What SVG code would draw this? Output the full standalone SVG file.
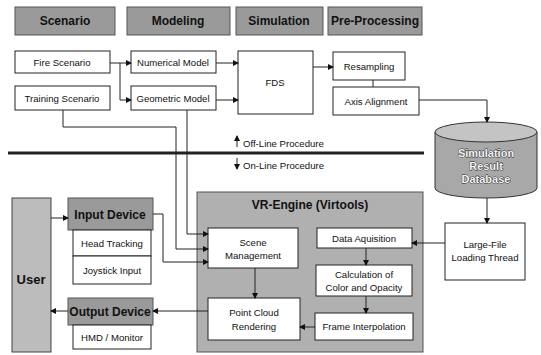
<svg xmlns="http://www.w3.org/2000/svg" width="541" height="355" viewBox="0 0 541 355">
<style>
.box{fill:#fff;stroke:#222;stroke-width:1}
.hdr{fill:#9a9a9a;stroke:#555;stroke-width:1}
.t{font-family:"Liberation Sans",Arial,sans-serif;font-size:9.6px;fill:#111;text-anchor:middle}
.h{font-family:"Liberation Sans",Arial,sans-serif;font-size:12px;font-weight:bold;fill:#111;text-anchor:middle}
.db{font-family:"Liberation Sans",Arial,sans-serif;font-size:11px;font-weight:bold;fill:#f4f4f4;stroke:#222;stroke-width:0.8;paint-order:stroke;text-anchor:middle}
.c{fill:none;stroke:#222;stroke-width:1}
.a{marker-end:url(#ah)}
</style>
<defs>
<marker id="ah" markerWidth="6" markerHeight="6" refX="5" refY="3" orient="auto" markerUnits="userSpaceOnUse">
<path d="M0,0 L6,3 L0,6 Z" fill="#111"/>
</marker>
</defs>
<rect width="541" height="355" fill="#fff"/>

<g id="hdr-scenario"><rect class="hdr" x="15" y="7" width="100" height="28"/><text class="h" x="65" y="25">Scenario</text></g>
<g id="hdr-modeling"><rect class="hdr" x="127" y="7" width="103" height="28"/><text class="h" x="178" y="25">Modeling</text></g>
<g id="hdr-simulation"><rect class="hdr" x="236" y="7" width="87" height="28"/><text class="h" x="279" y="25">Simulation</text></g>
<g id="hdr-preproc"><rect class="hdr" x="328" y="7" width="94" height="28"/><text class="h" x="375" y="25">Pre-Processing</text></g>

<g id="vr-engine"><rect x="197" y="192" width="226" height="160" fill="#b0b0b0" stroke="#555"/><text class="h" x="310" y="209">VR-Engine (Virtools)</text></g>

<g id="fire"><rect class="box" x="15" y="51" width="95" height="22"/><text class="t" x="62" y="66">Fire Scenario</text></g>
<g id="training"><rect class="box" x="15" y="86" width="95" height="24"/><text class="t" x="62" y="102">Training Scenario</text></g>
<g id="numerical"><rect class="box" x="131" y="51" width="85" height="22"/><text class="t" x="173" y="66">Numerical Model</text></g>
<g id="geometric"><rect class="box" x="131" y="86" width="85" height="24"/><text class="t" x="173" y="102">Geometric Model</text></g>
<g id="fds"><rect class="box" x="238" y="51" width="75" height="63"/><text class="t" x="275" y="86">FDS</text></g>
<g id="resampling"><rect class="box" x="333" y="52" width="72" height="28"/><text class="t" x="369" y="70">Resampling</text></g>
<g id="axis"><rect class="box" x="333" y="87" width="86" height="28"/><text class="t" x="376" y="105">Axis Alignment</text></g>

<g id="database">
<path d="M435,132 L435,188 A51,10 0 0 0 537,188 L537,132" fill="#a8a8a8" stroke="#333"/>
<ellipse cx="486" cy="132" rx="51" ry="10" fill="#c4c4c4" stroke="#333"/>
<text class="db" x="486" y="157">Simulation</text>
<text class="db" x="486" y="170">Result</text>
<text class="db" x="486" y="183">Database</text>
</g>

<g id="largefile"><rect class="box" x="445" y="223" width="80" height="57"/><text class="t" x="485" y="248">Large-File</text><text class="t" x="485" y="261">Loading Thread</text></g>

<g id="scene"><rect class="box" x="208" y="228" width="90" height="40"/><text class="t" x="253" y="246">Scene</text><text class="t" x="253" y="259">Management</text></g>
<g id="pointcloud"><rect class="box" x="208" y="298" width="92" height="42"/><text class="t" x="254" y="316">Point Cloud</text><text class="t" x="254" y="330">Rendering</text></g>
<g id="dataaq"><rect class="box" x="317" y="228" width="95" height="20"/><text class="t" x="364" y="242">Data Aquisition</text></g>
<g id="calc"><rect class="box" x="316" y="265" width="96" height="31"/><text class="t" x="364" y="278">Calculation of</text><text class="t" x="364" y="291">Color and Opacity</text></g>
<g id="frame"><rect class="box" x="315" y="313" width="98" height="27"/><text class="t" x="364" y="330">Frame Interpolation</text></g>

<g id="user"><rect x="12" y="198" width="39" height="154" fill="#bcbcbc" stroke="#444"/><text class="h" x="31" y="284" style="font-size:13px">User</text></g>
<g id="input"><rect class="hdr" x="68" y="198" width="85" height="32"/><text class="h" x="110" y="219">Input Device</text>
<rect class="box" x="73" y="230" width="78" height="26"/><text class="t" x="112" y="247">Head Tracking</text>
<rect class="box" x="73" y="256" width="78" height="28"/><text class="t" x="112" y="274">Joystick Input</text></g>
<g id="output"><rect class="hdr" x="68" y="298" width="85" height="27"/><text class="h" x="110" y="316">Output Device</text>
<rect class="box" x="73" y="325" width="78" height="24"/><text class="t" x="112" y="341">HMD / Monitor</text></g>

<g id="divider">
<line x1="8" y1="153" x2="424" y2="153" stroke="#222" stroke-width="3"/>
<text class="t" x="243" y="147" style="text-anchor:start">Off-Line Procedure</text>
<text class="t" x="243" y="169" style="text-anchor:start">On-Line Procedure</text>
</g>

<g id="connectors">
<path class="c" d="M110,63 H120 V100"/>
<path class="c a" d="M120,63 H131"/>
<path class="c a" d="M120,100 H131"/>
<path class="c a" d="M216,63 H238"/>
<path class="c a" d="M216,100 H238"/>
<path class="c a" d="M313,67 H333"/>
<path class="c" d="M373,80 V87"/>
<path class="c a" d="M419,100 H487 V122"/>
<path class="c a" d="M63,110 V127 H176 V249 H208"/>
<path class="c a" d="M187,110 V234 H208"/>
<path class="c a" d="M153,214 H163 V262 H208"/>
<path class="c a" d="M51,218 H68"/>
<path class="c a" d="M255,268 V298"/>
<path class="c a" d="M366,248 V265"/>
<path class="c a" d="M366,296 V313"/>
<path class="c a" d="M315,327 H300"/>
<path class="c a" d="M208,311 H153"/>
<path class="c a" d="M68,311 H51"/>
<path class="c a" d="M487,198 V223"/>
<path class="c a" d="M445,243 H412"/>
<path class="c a" d="M237,147 V136"/>
<path class="c a" d="M237,158 V169"/>
</g>
</svg>
